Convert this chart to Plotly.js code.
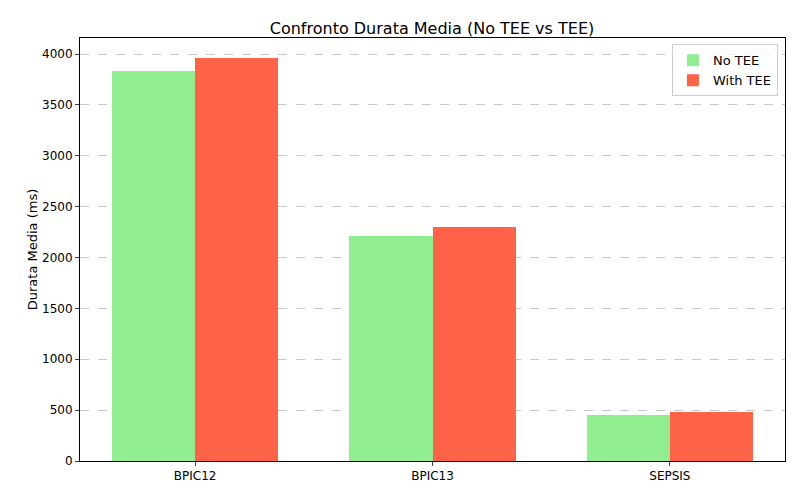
<!DOCTYPE html>
<html>
<head>
<script src="https://cdn.plot.ly/plotly-3.0.1.min.js"></script>
<style>body{margin:0}</style>
</head>
<body>
<div id="chart" style="width:800px;height:500px"></div>
<script>
var categories = ['BPIC12', 'BPIC13', 'SEPSIS'];
var noTee = [3833, 2211, 452];
var withTee = [3961, 2300, 482];

var pos = categories.map(function(c, i) { return i; });

var traces = [
  {
    type: 'bar', x: pos, y: noTee, name: 'No TEE',
    width: 0.35, offset: -0.35,
    marker: { color: '#90EE90' }
  },
  {
    type: 'bar', x: pos, y: withTee, name: 'With TEE',
    width: 0.35, offset: 0,
    marker: { color: '#FF6347' }
  }
];

var layout = {
  title: { text: 'Confronto Durata Media (No TEE vs TEE)', font: { family: 'DejaVu Sans', size: 16, color: '#000' }, x: 0.54, y: 0.955 },
  font: { family: 'DejaVu Sans', size: 12, color: '#000' },
  margin: { l: 80, r: 15, t: 38, b: 39 },
  xaxis: {
    tickvals: pos, ticktext: categories,
    range: [-0.485, 2.485],
    showline: true, linecolor: '#000', mirror: true,
    ticks: 'outside', ticklen: 4, zeroline: false, showgrid: false
  },
  yaxis: {
    title: { text: 'Durata Media (ms)', font: { size: 13 } },
    range: [0, 4158], dtick: 500,
    showline: true, linecolor: '#000', mirror: true,
    ticks: 'outside', ticklen: 4, zeroline: false,
    gridcolor: '#c8c8c8', griddash: 'dash'
  },
  legend: {
    x: 0.99, y: 0.985, xanchor: 'right', yanchor: 'top',
    bordercolor: '#ccc', borderwidth: 1, bgcolor: 'rgba(255,255,255,0.8)',
    font: { size: 13 }
  },
  bargap: 0,
  plot_bgcolor: '#fff', paper_bgcolor: '#fff'
};

Plotly.newPlot('chart', traces, layout, { displayModeBar: false });
</script>
</body>
</html>
